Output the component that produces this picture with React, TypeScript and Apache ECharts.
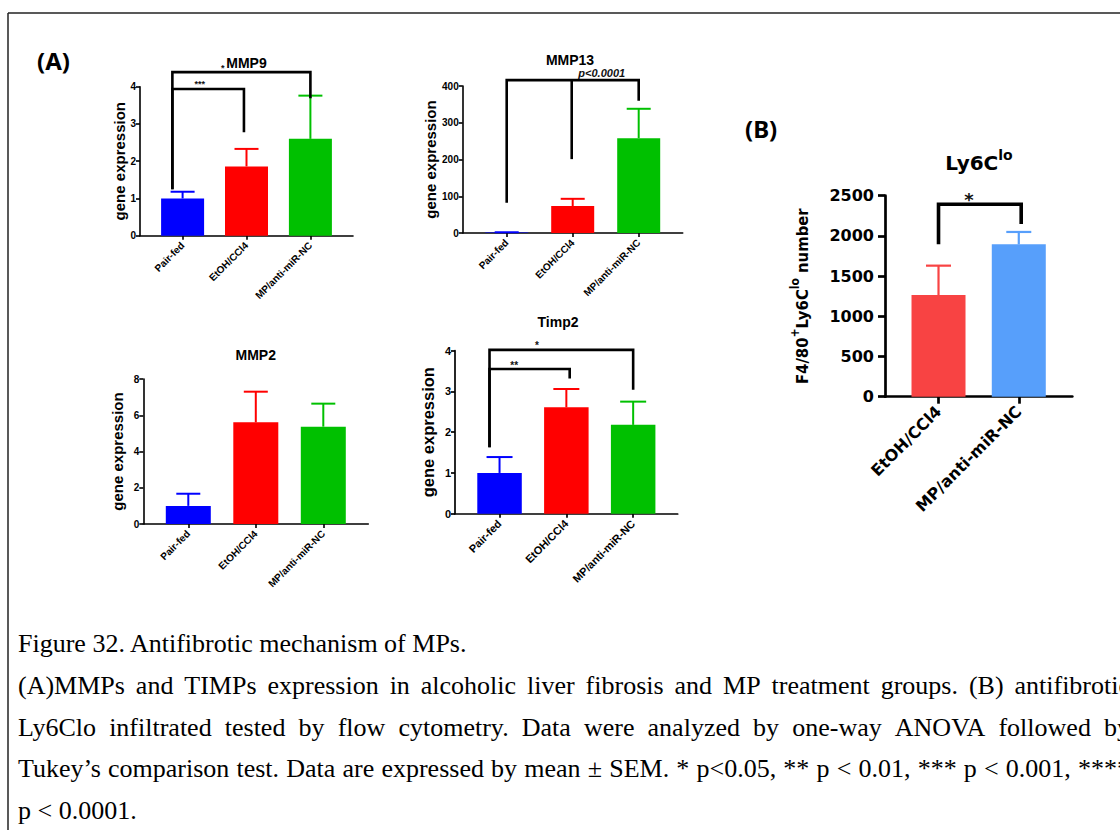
import React, { useEffect, useRef } from 'react';
import * as echarts from 'echarts';

// ---------- data ----------
const A_CATS = ['Pair-fed', 'EtOH/CCl4', 'MP/anti-miR-NC'];
const B_CATS = ['EtOH/CCl4', 'MP/anti-miR-NC'];
const A_COLORS = ['#0000FF', '#FF0000', '#00C000'];
const B_COLORS = ['#F84343', '#579FFB'];

const MMP9_MEAN = [1.0, 1.86, 2.6];
const MMP9_SEM = [0.18, 0.47, 1.16];
const MMP13_MEAN = [1.5, 73.5, 258];
const MMP13_SEM = [0.5, 19.5, 80];
const MMP2_MEAN = [1.0, 5.61, 5.37];
const MMP2_SEM = [0.67, 1.69, 1.27];
const TIMP2_MEAN = [1.0, 2.61, 2.18];
const TIMP2_SEM = [0.39, 0.45, 0.57];
const LY6C_MEAN = [1265, 1895];
const LY6C_SEM = [365, 154];

// y axis ranges: [max, interval]
const MMP9_Y = [4, 1];
const MMP13_Y = [400, 100];
const MMP2_Y = [8, 2];
const TIMP2_Y = [4, 1];
const LY6C_Y = [2500, 500];

// significance brackets: top value, legs [x position, lower end value]
const MMP9_BRACKETS = [
  { top: 4.39, legs: [[-0.16, 1.25], [2, 3.69]] },
  { top: 3.94, legs: [[-0.16, 1.25], [0.96, 2.78]] },
];
const MMP9_MARKS = [
  { text: '*', x: 0.63, y: 4.49 },
  { text: '***', x: 0.27, y: 4.07 },
];
const MMP13_BRACKETS = [{ top: 416, legs: [[0, 82], [0.985, 201], [2, 360]] }];
const MMP13_MARKS = [{ text: 'p<0.0001', x: 1.44, y: 436, italic: true }];
const MMP2_BRACKETS: any[] = [];
const MMP2_MARKS: any[] = [];
const TIMP2_BRACKETS = [
  { top: 4.02, legs: [[-0.15, 1.63], [2, 3.04]] },
  { top: 3.55, legs: [[-0.15, 1.63], [1.05, 3.32]] },
];
const TIMP2_MARKS = [
  { text: '*', x: 0.56, y: 4.13 },
  { text: '**', x: 0.22, y: 3.64 },
];
const LY6C_BRACKETS = [{ top: 2393, legs: [[0, 1895], [1.03, 2148]] }];
const LY6C_MARKS = [{ text: '*', x: 0.38, y: 2450 }];

const CAPTION = [
  'Figure 32. Antifibrotic mechanism of MPs.',
  '(A)MMPs and TIMPs expression in alcoholic liver fibrosis and MP treatment groups. (B) antifibrotic',
  'Ly6Clo infiltrated tested by flow cytometry. Data were analyzed by one-way ANOVA followed by',
  'Tukey\u2019s comparison test. Data are expressed by mean \u00b1 SEM. * p<0.05, ** p < 0.01, *** p < 0.001, ****',
  'p < 0.0001.',
];
const CAPTION_JUSTIFY = [false, true, true, true, false];

// ---------- layout / style ----------
const ARIAL = '"Liberation Sans", Arial, sans-serif';
const DEJAVU = '"DejaVu Sans", Verdana, sans-serif';
const NARROW = '"Liberation Sans Narrow", "DejaVu Sans Condensed", sans-serif';
const SERIF = '"Liberation Serif", "Times New Roman", serif';

const PANELS = [
  {
    grid: { left: 140, top: 86.7, width: 213, height: 149 },
    cats: A_CATS, colors: A_COLORS, mean: MMP9_MEAN, sem: MMP9_SEM, y: MMP9_Y,
    brackets: MMP9_BRACKETS, marks: MMP9_MARKS,
    barW: 43, cap: 24, errW: 2, brW: 2.6, axW: 1.6, tickLen: 4,
    font: ARIAL, tickFont: 10, xFont: 10, xMargin: 8, yMargin: 4, name: 'gene expression', nameFont: 15, nameGap: 13,
    markFont: 9, xMax: 8 / 3,
  },
  {
    grid: { left: 462.7, top: 86, width: 220, height: 147 },
    cats: A_CATS, colors: A_COLORS, mean: MMP13_MEAN, sem: MMP13_SEM, y: MMP13_Y,
    brackets: MMP13_BRACKETS, marks: MMP13_MARKS,
    barW: 43, cap: 24, errW: 2, brW: 2.6, axW: 1.6, tickLen: 4,
    font: ARIAL, tickFont: 10, xFont: 10, xMargin: 8, yMargin: 4, name: 'gene expression', nameFont: 15, nameGap: 23,
    markFont: 11, xMax: 8 / 3,
  },
  {
    grid: { left: 143.3, top: 379, width: 225, height: 145 },
    cats: A_CATS, colors: A_COLORS, mean: MMP2_MEAN, sem: MMP2_SEM, y: MMP2_Y,
    brackets: MMP2_BRACKETS, marks: MMP2_MARKS,
    barW: 45, cap: 24, errW: 2, brW: 2.6, axW: 1.6, tickLen: 4,
    font: ARIAL, tickFont: 10, xFont: 10, xMargin: 8, yMargin: 4, name: 'gene expression', nameFont: 15, nameGap: 18,
    markFont: 9, xMax: 8 / 3,
  },
  {
    grid: { left: 455, top: 350.7, width: 222.7, height: 163 },
    cats: A_CATS, colors: A_COLORS, mean: TIMP2_MEAN, sem: TIMP2_SEM, y: TIMP2_Y,
    brackets: TIMP2_BRACKETS, marks: TIMP2_MARKS,
    barW: 44.5, cap: 26, errW: 2, brW: 2.6, axW: 1.7, tickLen: 4,
    font: ARIAL, tickFont: 11, xFont: 11, xMargin: 8, yMargin: 4, name: 'gene expression', nameFont: 16.5, nameGap: 19,
    markFont: 10, xMax: 8 / 3,
  },
  {
    grid: { left: 885, top: 195.7, width: 187.3, height: 201 },
    cats: B_CATS, colors: B_COLORS, mean: LY6C_MEAN, sem: LY6C_SEM, y: LY6C_Y,
    brackets: LY6C_BRACKETS, marks: LY6C_MARKS,
    barW: 54, cap: 25, errW: 2.2, brW: 3.6, axW: 2.7, tickLen: 7,
    font: DEJAVU, tickFont: 16, xFont: 16, xMargin: 12, yMargin: 11,
    name: '{n|F4/80}{s|+}{n|Ly6C}{s|lo}{n| number}', nameFont: 16.5, nameGap: 70,
    markFont: 18, xMax: 5 / 3, rich: true,
  },
];

function buildOption() {
  const grid: any[] = [];
  const xAxis: any[] = [];
  const yAxis: any[] = [];
  const series: any[] = [];

  PANELS.forEach((p, k) => {
    grid.push({ ...p.grid, outerBoundsMode: 'none', containLabel: false });
    const idx = p.cats.map((_, i) => i);
    xAxis.push({
      type: 'value', gridIndex: k, min: -2 / 3, max: p.xMax,
      axisLine: { show: true, onZero: false, lineStyle: { color: '#000', width: p.axW } },
      axisTick: { show: true, customValues: idx, length: p.tickLen, lineStyle: { color: '#000', width: p.axW } },
      axisLabel: {
        show: true, customValues: idx, rotate: 45, margin: p.xMargin,
        formatter: (v: number) => p.cats[Math.round(v)] ?? '',
        color: '#000', fontWeight: 'bold', fontFamily: p.font, fontSize: p.xFont,
      },
      splitLine: { show: false },
    });
    const nameStyle: any = p.rich
      ? {
          color: '#000',
          rich: {
            n: { fontFamily: NARROW, fontWeight: 'bold', fontSize: p.nameFont, lineHeight: 26, color: '#000' },
            s: { fontFamily: NARROW, fontWeight: 'bold', fontSize: 12, lineHeight: 13, verticalAlign: 'top', color: '#000' },
          },
        }
      : { color: '#000', fontWeight: 'bold', fontFamily: p.font, fontSize: p.nameFont };
    yAxis.push({
      type: 'value', gridIndex: k, min: 0, max: p.y[0], interval: p.y[1],
      name: p.name, nameLocation: 'middle', nameGap: p.nameGap, nameTextStyle: nameStyle,
      axisLine: { show: true, onZero: false, lineStyle: { color: '#000', width: p.axW } },
      axisTick: { show: true, length: p.tickLen, lineStyle: { color: '#000', width: p.axW } },
      axisLabel: {
        color: '#000', fontWeight: 'bold', fontFamily: p.font, fontSize: p.tickFont, margin: p.yMargin,
        formatter: (v: number) => String(v),
      },
      splitLine: { show: false },
    });

    series.push({
      type: 'bar', xAxisIndex: k, yAxisIndex: k, barWidth: p.barW, z: 2,
      data: p.mean.map((m, i) => ({ value: [i, m], itemStyle: { color: p.colors[i] } })),
    });
    series.push({
      type: 'custom', xAxisIndex: k, yAxisIndex: k, clip: false, z: 3,
      data: p.mean.map((m, i) => [i, m, m + p.sem[i]]),
      renderItem: (params: any, api: any) => {
        const x = api.value(0), m = api.value(1), t = api.value(2);
        const a = api.coord([x, m]);
        const b = api.coord([x, t]);
        const c = p.colors[params.dataIndex];
        return {
          type: 'group',
          children: [
            { type: 'line', shape: { x1: a[0], y1: a[1], x2: b[0], y2: b[1] }, style: { stroke: c, lineWidth: p.errW } },
            { type: 'line', shape: { x1: b[0] - p.cap / 2, y1: b[1], x2: b[0] + p.cap / 2, y2: b[1] }, style: { stroke: c, lineWidth: p.errW } },
          ],
        };
      },
    });
    if (p.brackets.length) {
      series.push({
        type: 'custom', xAxisIndex: k, yAxisIndex: k, clip: false, z: 4,
        data: p.brackets.map((b: any) => [b.legs[0][0], b.top]),
        renderItem: (params: any, api: any) => {
          const b = p.brackets[params.dataIndex];
          const first = b.legs[0];
          const last = b.legs[b.legs.length - 1];
          const pts = [
            api.coord([first[0], first[1]]),
            api.coord([first[0], b.top]),
            api.coord([last[0], b.top]),
            api.coord([last[0], last[1]]),
          ];
          const children: any[] = [
            { type: 'polyline', shape: { points: pts }, style: { stroke: '#000', lineWidth: p.brW, fill: null, lineJoin: 'miter' } },
          ];
          for (let j = 1; j < b.legs.length - 1; j++) {
            const t = api.coord([b.legs[j][0], b.top]);
            const e = api.coord([b.legs[j][0], b.legs[j][1]]);
            children.push({ type: 'line', shape: { x1: t[0], y1: t[1], x2: e[0], y2: e[1] }, style: { stroke: '#000', lineWidth: p.brW } });
          }
          return { type: 'group', children };
        },
      });
    }
    if (p.marks.length) {
      series.push({
        type: 'custom', xAxisIndex: k, yAxisIndex: k, clip: false, z: 5,
        data: p.marks.map((m: any) => [m.x, m.y]),
        renderItem: (params: any, api: any) => {
          const m = p.marks[params.dataIndex];
          const c = api.coord([api.value(0), api.value(1)]);
          return {
            type: 'text', x: c[0], y: c[1],
            style: {
              text: m.text, fill: '#111', fontSize: p.markFont, fontWeight: 'bold',
              fontStyle: m.italic ? 'italic' : 'normal', fontFamily: p.font,
              align: 'center', verticalAlign: 'middle',
            },
          };
        },
      });
    }
  });

  // graphic: frame, panel letters, titles, caption
  const graphic: any[] = [
    { type: 'line', shape: { x1: 8, y1: 13, x2: 1120, y2: 13 }, style: { stroke: '#222', lineWidth: 1.5 } },
    { type: 'line', shape: { x1: 8, y1: 13, x2: 8, y2: 830 }, style: { stroke: '#222', lineWidth: 1.5 } },
    { type: 'text', x: 37, y: 60, style: { text: '(A)', fontSize: 24, fontWeight: 'bold', fontFamily: '"Noto Sans", sans-serif', fill: '#000', align: 'left', verticalAlign: 'middle' } },
    { type: 'text', x: 745, y: 128, style: { text: '(B)', fontSize: 24, fontWeight: 'bold', fontFamily: '"Noto Sans", sans-serif', fill: '#000', align: 'left', verticalAlign: 'middle' } },
    { type: 'text', x: 246.5, y: 63, style: { text: 'MMP9', fontSize: 14, fontWeight: 'bold', fontFamily: ARIAL, fill: '#000', align: 'center', verticalAlign: 'middle' } },
    { type: 'text', x: 570, y: 60, style: { text: 'MMP13', fontSize: 14, fontWeight: 'bold', fontFamily: ARIAL, fill: '#000', align: 'center', verticalAlign: 'middle' } },
    { type: 'text', x: 255.7, y: 355, style: { text: 'MMP2', fontSize: 14, fontWeight: 'bold', fontFamily: ARIAL, fill: '#000', align: 'center', verticalAlign: 'middle' } },
    { type: 'text', x: 558, y: 322, style: { text: 'Timp2', fontSize: 14, fontWeight: 'bold', fontFamily: ARIAL, fill: '#000', align: 'center', verticalAlign: 'middle' } },
    {
      type: 'text', x: 979, y: 163,
      style: {
        text: '{a|Ly6C}{s|lo}', align: 'center', verticalAlign: 'middle',
        rich: {
          a: { fontSize: 20, fontWeight: 'bold', fontFamily: DEJAVU, fill: '#000', lineHeight: 30 },
          s: { fontSize: 14, fontWeight: 'bold', fontFamily: DEJAVU, fill: '#000', lineHeight: 15, verticalAlign: 'top' },
        },
      },
    },
  ];

  const capFont = 26;
  const ctx = document.createElement('canvas').getContext('2d') as CanvasRenderingContext2D;
  ctx.font = `${capFont}px "Liberation Serif"`;
  const capY = [643, 685, 727, 768, 810];
  const capX0 = 18;
  const capX1 = 1130;
  CAPTION.forEach((line, li) => {
    if (!CAPTION_JUSTIFY[li]) {
      graphic.push({ type: 'text', x: capX0, y: capY[li], style: { text: line, fontSize: capFont, fontFamily: SERIF, fill: '#000', align: 'left', verticalAlign: 'middle' } });
      return;
    }
    const words = line.split(' ');
    const widths = words.map((w) => ctx.measureText(w).width);
    const total = widths.reduce((s, w) => s + w, 0);
    const gap = Math.max(5, (capX1 - capX0 - total) / (words.length - 1));
    let x = capX0;
    words.forEach((w, i) => {
      graphic.push({ type: 'text', x, y: capY[li], style: { text: w, fontSize: capFont, fontFamily: SERIF, fill: '#000', align: 'left', verticalAlign: 'middle' } });
      x += widths[i] + gap;
    });
  });

  return { animation: false, backgroundColor: '#fff', grid, xAxis, yAxis, series, graphic };
}

export default function App() {
  const ref = useRef<HTMLDivElement>(null);
  useEffect(() => {
    if (!ref.current) return;
    const chart = echarts.init(ref.current, undefined, { renderer: 'svg' });
    chart.setOption(buildOption() as any);
    return () => chart.dispose();
  }, []);
  return <div ref={ref} style={{ position: 'absolute', left: 0, top: 0, width: 1120, height: 830 }} />;
}
